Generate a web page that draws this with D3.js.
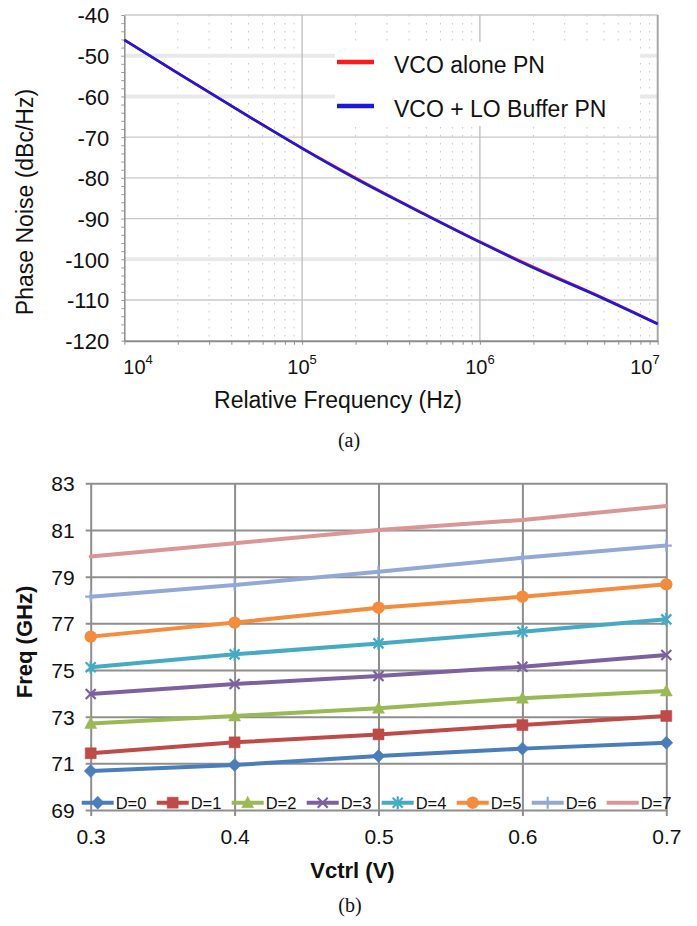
<!DOCTYPE html>
<html>
<head>
<meta charset="utf-8">
<script src="https://cdn.jsdelivr.net/npm/d3@7"></script>
<style>
  body { margin: 0; background: #fff; }
  svg { display: block; }
</style>
</head>
<body>
<svg id="fig" width="697" height="926"></svg>
<script>
// ---------- (a) phase noise vs. offset frequency ----------
const offsetFreqHz   = [1e4, 2e4, 5e4, 1e5, 2e5, 5e5, 1e6, 2e6, 5e6, 1e7];
const pnVcoAlone     = [-46.1, -54.3, -64.9, -72.7, -80.0, -89.1, -95.7, -101.9, -109.6, -115.8];
const pnVcoLoBuffer  = [-46.1, -54.3, -64.9, -72.75, -80.2, -89.2, -95.8, -102.1, -109.75, -115.9];
const pnTicks        = [-40, -50, -60, -70, -80, -90, -100, -110, -120];
const pnBandTicks    = [-50, -60, -100];
const decadeTicks    = [1e4, 1e5, 1e6, 1e7];
const decadeExps     = ["4", "5", "6", "7"];
const pnLegend       = ["VCO alone PN", "VCO + LO Buffer PN"];
const pnColors       = ["#ff1a1a", "#1a1adf"];

// ---------- (b) tuning range vs. control voltage ----------
const vctrlValues = [0.3, 0.4, 0.5, 0.6, 0.7];
const freqD0 = [70.67, 70.93, 71.31, 71.63, 71.88];
const freqD1 = [71.43, 71.90, 72.24, 72.64, 73.03];
const freqD2 = [72.71, 73.03, 73.36, 73.79, 74.10];
const freqD3 = [73.97, 74.40, 74.74, 75.14, 75.64];
const freqD4 = [75.12, 75.67, 76.14, 76.64, 77.17];
const freqD5 = [76.43, 77.03, 77.67, 78.14, 78.67];
const freqD6 = [78.14, 78.64, 79.21, 79.81, 80.33];
const freqD7 = [79.86, 80.43, 81.00, 81.43, 82.03];
const bandNames   = ["D=0", "D=1", "D=2", "D=3", "D=4", "D=5", "D=6", "D=7"];
const bandColors  = ["#4a7ebb", "#be4b48", "#98b954", "#7d60a0", "#46aac5", "#f38c3c", "#92a9d8", "#d99694"];
const bandMarkers = ["diamond", "square", "triangle", "x", "asterisk", "circle", "plus", "none"];
const freqTicks   = [69, 71, 73, 75, 77, 79, 81, 83];
const vctrlTicks  = [0.3, 0.4, 0.5, 0.6, 0.7];

const sans = "'Liberation Sans', Arial, Helvetica, sans-serif";
const serif = "'Liberation Serif', 'Times New Roman', serif";
const svg = d3.select("#fig");

// ===================== panel (a) =====================
const A = { left: 124.3, right: 657.7, top: 15, bottom: 340.7 };
const xA = d3.scaleLog().domain([1e4, 1e7]).range([A.left, A.right]);
const yA = d3.scaleLinear().domain([-120, -40]).range([A.bottom, A.top]);
const gA = svg.append("g");

// minor dotted verticals at 2..9 x each decade
const minorFreqs = xA.ticks().filter(f => !decadeTicks.includes(f));
gA.append("g").selectAll("line").data(minorFreqs).join("line")
  .attr("x1", d => xA(d)).attr("x2", d => xA(d))
  .attr("y1", A.top).attr("y2", A.bottom)
  .attr("stroke", "#c6c6c6").attr("stroke-width", 1)
  .attr("stroke-dasharray", "1.5,6.5");

// horizontal grid
gA.append("g").selectAll("line").data(pnTicks.filter(v => v > -120)).join("line")
  .attr("x1", A.left).attr("x2", A.right)
  .attr("y1", d => yA(d)).attr("y2", d => yA(d))
  .attr("stroke", d => pnBandTicks.includes(d) ? "#e9e9e9" : "#c8c8c8")
  .attr("stroke-width", d => pnBandTicks.includes(d) ? 4 : 1.3);

// vertical decade grid
gA.append("g").selectAll("line").data(decadeTicks.slice(1, 3)).join("line")
  .attr("x1", d => xA(d)).attr("x2", d => xA(d))
  .attr("y1", A.top).attr("y2", A.bottom)
  .attr("stroke", "#bdbdbd").attr("stroke-width", 1.3);

// right frame
gA.append("line").attr("x1", A.right).attr("x2", A.right)
  .attr("y1", A.top).attr("y2", A.bottom)
  .attr("stroke", "#a8a8a8").attr("stroke-width", 2);

// legend background
gA.append("rect").attr("x", 335).attr("y", 42).attr("width", 305).attr("height", 84)
  .attr("fill", "#fff");

// left axis: minor ticks + labels
const pnMinor = d3.range(-120, -39, 2);
gA.append("g").attr("transform", `translate(${A.left},0)`)
  .call(d3.axisLeft(yA).tickValues(pnMinor).tickSize(3).tickFormat("").tickSizeOuter(0))
  .call(g => g.select(".domain").attr("stroke", "#8c8c8c").attr("stroke-width", 1.5))
  .call(g => g.selectAll(".tick line").attr("stroke", "#9a9a9a"));
gA.append("g").attr("transform", `translate(${A.left},0)`)
  .call(d3.axisLeft(yA).tickValues(pnTicks).tickSize(0).tickPadding(15).tickFormat(d => String(d)))
  .call(g => g.select(".domain").remove())
  .call(g => g.selectAll("text").attr("font-family", sans).attr("font-size", 22)
        .attr("fill", "#111").attr("dy", "0.36em"));

// bottom axis: ticks
gA.append("g").attr("transform", `translate(0,${A.bottom})`)
  .call(d3.axisBottom(xA).tickValues(xA.ticks()).tickSize(4).tickFormat("").tickSizeOuter(0))
  .call(g => g.select(".domain").attr("stroke", "#8c8c8c").attr("stroke-width", 2))
  .call(g => g.selectAll(".tick line").attr("stroke", "#8c8c8c"));

// decade labels with superscript exponent
decadeTicks.forEach((f, i) => {
  const anchor = i === 0 ? "start" : (i === decadeTicks.length - 1 ? "end" : "middle");
  const dx = i === 0 ? -1 : (i === decadeTicks.length - 1 ? 2 : 0);
  const t = gA.append("text")
    .attr("x", xA(f) + dx).attr("y", 373.5)
    .attr("text-anchor", anchor)
    .attr("font-family", sans).attr("font-size", 20).attr("fill", "#111");
  t.append("tspan").text("10");
  t.append("tspan").attr("dy", -10).attr("font-size", 13).text(decadeExps[i]);
});

// titles
gA.append("text").attr("x", 338).attr("y", 408).attr("text-anchor", "middle")
  .attr("font-family", sans).attr("font-size", 23).attr("fill", "#111")
  .text("Relative Frequency (Hz)");
gA.append("text").attr("transform", "translate(33,202) rotate(-90)")
  .attr("text-anchor", "middle").attr("font-family", sans).attr("font-size", 23)
  .attr("fill", "#111").text("Phase Noise (dBc/Hz)");

// curves
const pnLine = d3.line().x(d => xA(d[0])).y(d => yA(d[1])).curve(d3.curveMonotoneX);
[pnVcoAlone, pnVcoLoBuffer].forEach((vals, i) => {
  gA.append("path").datum(offsetFreqHz.map((f, k) => [f, vals[k]]))
    .attr("d", pnLine).attr("fill", "none")
    .attr("stroke", pnColors[i]).attr("stroke-width", 2.6);
});

// legend
pnLegend.forEach((name, i) => {
  const y = 62 + i * 44;
  gA.append("line").attr("x1", 337).attr("x2", 374).attr("y1", y).attr("y2", y)
    .attr("stroke", pnColors[i]).attr("stroke-width", 4.5);
  gA.append("text").attr("x", 394).attr("y", y + 11)
    .attr("font-family", sans).attr("font-size", 23).attr("fill", "#111").text(name);
});

svg.append("text").attr("x", 349).attr("y", 447).attr("text-anchor", "middle")
  .attr("font-family", serif).attr("font-size", 20).attr("fill", "#111").text("(a)");

// ===================== panel (b) =====================
const B = { left: 90.7, right: 666.3, top: 483.3, bottom: 810 };
const xB = d3.scaleLinear().domain([0.3, 0.7]).range([B.left, B.right]);
const yB = d3.scaleLinear().domain([69, 83]).range([B.bottom, B.top]);
const gB = svg.append("g");
const gridColor = "#8e8e8e";

gB.append("g").attr("transform", `translate(${B.left},0)`)
  .call(d3.axisLeft(yB).tickValues(freqTicks).tickSize(5).tickSizeOuter(0).tickFormat(d3.format("d")))
  .call(g => g.select(".domain").remove())
  .call(g => g.selectAll(".tick line").attr("x1", -5).attr("x2", B.right - B.left)
        .attr("stroke", gridColor).attr("stroke-width", 2))
  .call(g => g.selectAll("text").attr("x", -16).attr("dy", "0.36em")
        .attr("font-family", sans).attr("font-size", 21).attr("fill", "#111"));

gB.append("g").attr("transform", `translate(0,${B.bottom})`)
  .call(d3.axisBottom(xB).tickValues(vctrlTicks).tickSize(6).tickSizeOuter(0).tickFormat(d3.format(".1f")))
  .call(g => g.select(".domain").remove())
  .call(g => g.selectAll(".tick line").attr("y1", 6).attr("y2", -(B.bottom - B.top))
        .attr("stroke", gridColor).attr("stroke-width", 2))
  .call(g => g.selectAll("text").attr("y", 19).attr("dy", "0.71em")
        .attr("font-family", sans).attr("font-size", 21).attr("fill", "#111"));

function markerPath(type) {
  switch (type) {
    case "diamond":  return "M0,-6.5L6.5,0L0,6.5L-6.5,0Z";
    case "square":   return "M-5.5,-5.5H5.5V5.5H-5.5Z";
    case "triangle": return "M0,-6.5L6,5L-6,5Z";
    case "x":        return "M-5,-5L5,5M-5,5L5,-5";
    case "asterisk": return "M-5,-5L5,5M-5,5L5,-5M0,-6.5L0,6.5";
    case "plus":     return "M-5.5,0L5.5,0M0,-6L0,6";
    default:         return null;
  }
}
function drawMarker(g, type, color, x, y) {
  if (type === "none") return;
  if (type === "circle") {
    g.append("circle").attr("cx", x).attr("cy", y).attr("r", 6.2).attr("fill", color);
    return;
  }
  const stroked = ["x", "asterisk", "plus"].includes(type);
  g.append("path").attr("d", markerPath(type))
    .attr("transform", `translate(${x},${y})`)
    .attr("fill", stroked ? "none" : color)
    .attr("stroke", color).attr("stroke-width", stroked ? 2.2 : 0.5);
}

const bandSeries = [freqD0, freqD1, freqD2, freqD3, freqD4, freqD5, freqD6, freqD7];
const bLine = d3.line().x(d => xB(d[0])).y(d => yB(d[1]));
bandSeries.forEach((vals, i) => {
  const pts = vctrlValues.map((v, k) => [v, vals[k]]);
  gB.append("path").datum(pts).attr("d", bLine).attr("fill", "none")
    .attr("stroke", bandColors[i]).attr("stroke-width", 4)
    .attr("stroke-linejoin", "round").attr("stroke-linecap", "round");
  pts.forEach(p => drawMarker(gB, bandMarkers[i], bandColors[i], xB(p[0]), yB(p[1])));
});

// legend row inside the plot
bandNames.forEach((name, i) => {
  const x0 = 81.7 + 75 * i, y = 802.7;
  gB.append("line").attr("x1", x0).attr("x2", x0 + 32).attr("y1", y).attr("y2", y)
    .attr("stroke", bandColors[i]).attr("stroke-width", 4);
  drawMarker(gB, bandMarkers[i], bandColors[i], x0 + 16, y);
  gB.append("text").attr("x", x0 + 34).attr("y", y + 6)
    .attr("font-family", sans).attr("font-size", 16.5).attr("fill", "#111").text(name);
});

gB.append("text").attr("x", 352.5).attr("y", 878).attr("text-anchor", "middle")
  .attr("font-family", sans).attr("font-size", 22).attr("font-weight", "bold")
  .attr("fill", "#111").text("Vctrl (V)");
gB.append("text").attr("transform", "translate(32,642) rotate(-90)")
  .attr("text-anchor", "middle").attr("font-family", sans).attr("font-size", 22)
  .attr("font-weight", "bold").attr("fill", "#111").text("Freq (GHz)");

svg.append("text").attr("x", 350).attr("y", 912).attr("text-anchor", "middle")
  .attr("font-family", serif).attr("font-size", 20).attr("fill", "#111").text("(b)");
</script>
</body>
</html>
